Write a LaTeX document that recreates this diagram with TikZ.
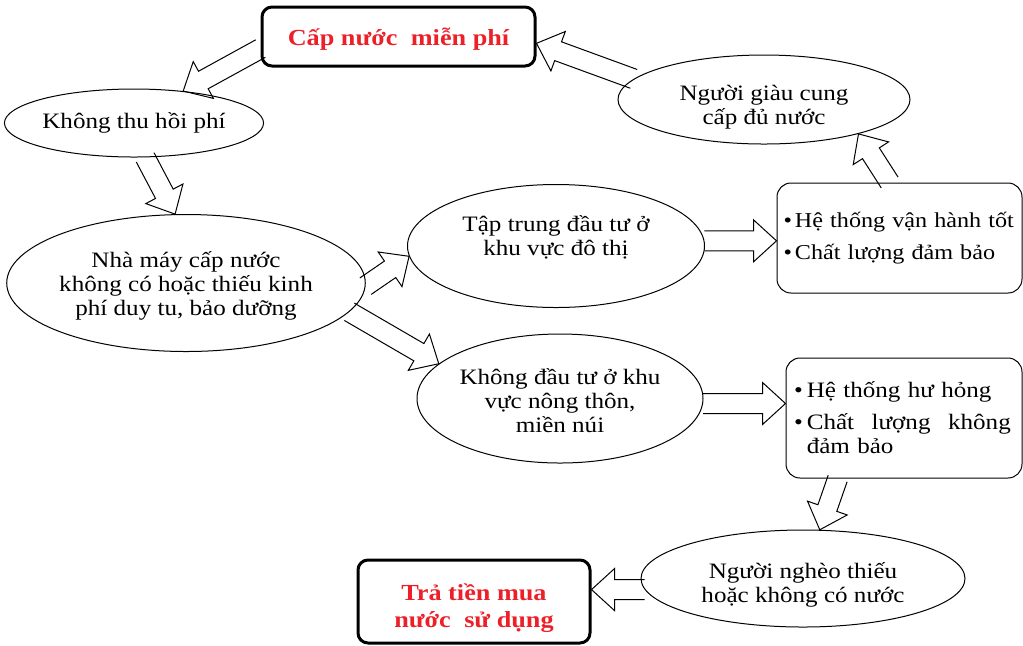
\documentclass[tikz,border=0pt]{standalone}
\usepackage{fontspec}
\setmainfont{Liberation Serif}[FakeStretch=1.14]
\usetikzlibrary{shapes.geometric,calc}
\definecolor{titlered}{RGB}{236,32,40}

% hollow block arrow from #1 to #2
\newcommand{\shaftw}{5pt}
\newcommand{\headw}{10.5pt}
\newcommand{\headlen}{11.5pt}
\newcommand{\fatarrow}[2]{%
  \coordinate (fa) at ($(#2)!\headlen!(#1)$);
  \draw[fat] ($(#1)!\shaftw!90:(#2)$) -- ($(fa)!\shaftw!90:(#2)$)
    -- ($(fa)!\headw!90:(#2)$) -- (#2) -- ($(fa)!\headw!-90:(#2)$)
    -- ($(fa)!\shaftw!-90:(#2)$) -- ($(#1)!\shaftw!-90:(#2)$);}

\begin{document}
\begin{tikzpicture}[x=0.5pt,y=-0.5pt,
  bubble/.style={ellipse, draw, line width=0.5pt, inner sep=0pt,
    align=center, font=\fontsize{11}{12}\selectfont},
  redbox/.style={rectangle, draw, line width=1.5pt, rounded corners=5pt,
    text=titlered, align=center, font=\bfseries\fontsize{11.5}{13.5}\selectfont},
  listbox/.style={rectangle, draw, line width=0.5pt, rounded corners=7pt,
    align=left, inner sep=0pt, font=\fontsize{11}{12}\selectfont},
  fat/.style={line width=0.5pt, line join=miter}]
\useasboundingbox (0,0) rectangle (1023,645);

% boxes and bubbles
\node[redbox, minimum width=136.5pt, minimum height=29.5pt] (top) at (398.5,36.5)
  {\rule{0pt}{11pt}Cấp nước\hspace{0.3em} miễn phí};
\node[bubble, minimum width=124pt, minimum height=34pt] (thuhoi) at (134,123)
  {Không thu hồi phí};
\node[bubble, minimum width=174pt, minimum height=68.5pt] (nhamay) at (186,283)
  {\rule{0pt}{11pt}Nhà máy cấp nước\\không có hoặc thiếu kinh\\phí duy tu, bảo dưỡng};
\node[bubble, minimum width=148.5pt, minimum height=61.5pt] (taptrung) at (556,246)
  {Tập trung đầu tư ở\\khu vực đô thị\rule[-10pt]{0pt}{10pt}};
\node[bubble, minimum width=143pt, minimum height=64.5pt] (khongdt) at (560,398.5)
  {\rule{0pt}{10pt}Không đầu tư ở khu\\vực nông thôn,\\miền núi};
\node[bubble, minimum width=146pt, minimum height=44.5pt] (nguoigiau) at (764,99.5)
  {\rule{0pt}{15pt}Người giàu cung\\cấp đủ nước};
\node[listbox, minimum width=122.5pt, minimum height=55pt, text width=116pt,
      font=\fontsize{10.6}{12}\selectfont] (tot) at (899.5,238)
  {\mbox{\textbullet\hspace{1.5pt}Hệ thống vận hành tốt}\\[4pt]
   \textbullet\hspace{1.5pt}Chất lượng đảm bảo\\[8pt]};
\node[listbox, minimum width=118pt, minimum height=60pt, text width=110pt] (hong) at (904,418)
  {\textbullet\hspace{2pt}Hệ thống hư hỏng\\[4pt]
   \textbullet\hspace{2pt}\makebox[102pt][l]{Chất\hfill lượng\hfill không}\\
   \phantom{\textbullet}\hspace{2pt}đảm bảo\\[2pt]};
\node[bubble, minimum width=162pt, minimum height=48.5pt] (nguoingheo) at (803,578.5)
  {\rule{0pt}{14pt}Người nghèo thiếu\\hoặc không có nước};
\node[redbox, minimum width=116pt, minimum height=41.5pt] (tratien) at (474,601.5)
  {\rule{0pt}{15pt}Trả tiền mua\\nước\hspace{0.3em} sử dụng};

% arrow ends
\coordinate (topin) at ($(top.east)!0.22!(top.south east)$);
\coordinate (topout) at ($(top.west)!0.39!(top.south west)$);
\coordinate (totin) at (taptrung.2 -| tot.west);
\coordinate (totout) at ($(tot.north west)!0.46!(tot.north east)$);
\coordinate (hongin) at (khongdt.-2 -| hong.west);
\coordinate (hongout) at ($(hong.south west)!0.22!(hong.south east)$);
\coordinate (train) at (nguoingheo.184 -| tratien.east);

% arrows
\fatarrow{topout}{thuhoi.33}
\fatarrow{thuhoi.-72}{nhamay.99}
\fatarrow{nhamay.-1}{taptrung.184}
\fatarrow{nhamay.-10}{khongdt.164}
\fatarrow{taptrung.2}{totin}
\fatarrow{totout}{nguoigiau.-20}
\fatarrow{nguoigiau.171}{topin}
\fatarrow{khongdt.-2}{hongin}
\fatarrow{hongout}{nguoingheo.71}
\fatarrow{nguoingheo.184}{train}
\end{tikzpicture}
\end{document}
